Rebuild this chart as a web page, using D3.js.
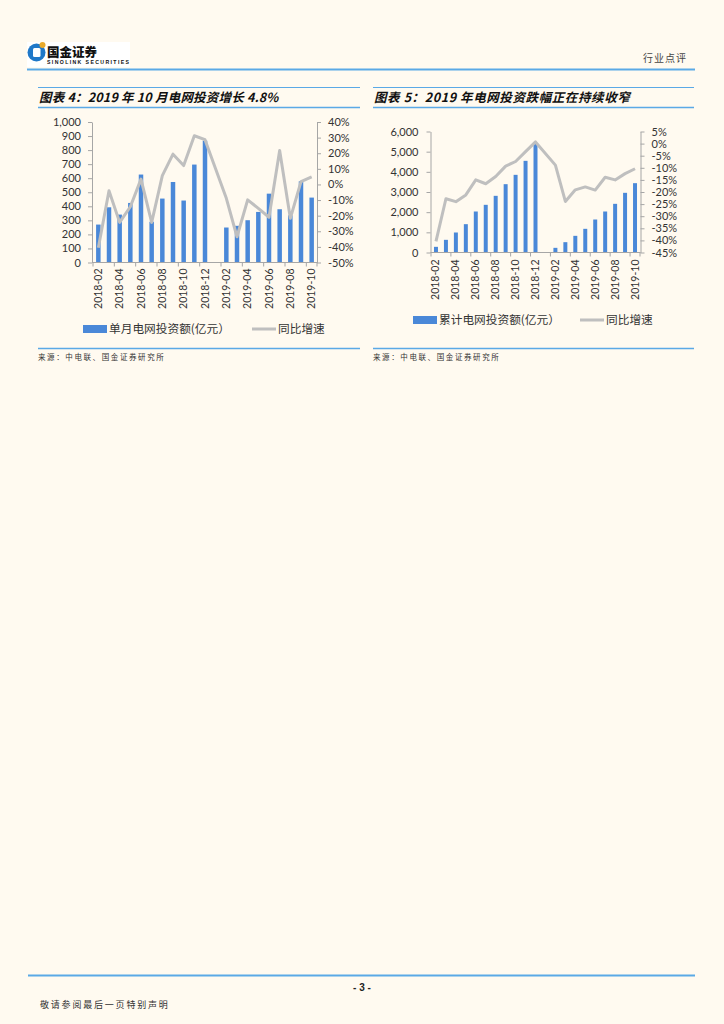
<!DOCTYPE html>
<meta charset="utf-8">
<style>
body { margin: 0; background: #fffaf0; }
svg { display: block; }
.cjk { font-family: "Noto Sans CJK SC", sans-serif; }
.axis path, .axis line { stroke: #a6a6a6; }
.axis text { fill: #333; font-family: Lato, "Noto Sans", sans-serif; font-size: 11px; }
</style>
<svg width="724" height="1024"></svg>
<script src="https://cdn.jsdelivr.net/npm/d3@7"></script>
<script>

// months shown on both charts (2019-01 has no published figure)
var months = ["2018-02","2018-03","2018-04","2018-05","2018-06","2018-07","2018-08",
  "2018-09","2018-10","2018-11","2018-12","2019-01","2019-02","2019-03","2019-04",
  "2019-05","2019-06","2019-07","2019-08","2019-09","2019-10"];

// 图表4: 单月电网投资额(亿元) / 同比增速(%)
var monthlyInvest = [270,393,341,424,626,290,455,573,441,697,867,null,
  249,261,301,360,490,379,336,578,462];
var monthlyYoY = [-40.6,-4.1,-24.3,-14.3,3.4,-24.3,5.7,19.4,12.1,31.2,28.7,null,
  -8.9,-33.5,-9.9,-15.3,-21.0,21.8,-21.7,1.8,4.8];

// 图表5: 累计电网投资额(亿元) / 同比增速(%)
var cumInvest = [281,628,992,1405,2033,2364,2810,3388,3851,4545,5388,null,
  231,512,826,1174,1636,2033,2413,2959,3438];
var cumYoY = [-40.4,-22.8,-24.0,-21.2,-15.0,-16.6,-13.6,-9.3,-7.4,-3.3,0.7,null,
  -8.9,-23.9,-19.1,-17.9,-19.2,-13.9,-15.0,-12.4,-10.4];

var leftTicks1 = d3.range(0, 1001, 100),
    rightTicks1 = d3.range(-50, 41, 10),
    leftTicks2 = d3.range(0, 6001, 1000),
    rightTicks2 = d3.range(-45, 6, 5);

var blue = "#5aa9e6",
    barColor = "#4a88d8",
    lineColor = "#bfbfbf";

var svg = d3.select("svg");

// ---- page header ----
svg.append("rect").attr("x", 27).attr("y", 42).attr("width", 103).attr("height", 25).attr("fill", "#fff");
svg.append("circle").attr("cx", 36.5).attr("cy", 52.5).attr("r", 9).attr("fill", "#1f78c8");
svg.append("rect").attr("x", 33).attr("y", 48).attr("width", 7.5).attr("height", 9).attr("rx", 1.5).attr("fill", "#fff");
svg.append("circle").attr("cx", 42.5).attr("cy", 45).attr("r", 3).attr("fill", "#e8a92a");
svg.append("text").attr("class", "cjk").attr("x", 47).attr("y", 56.5)
    .attr("font-size", 12.5).attr("font-weight", 900).attr("fill", "#111").text("国金证券");
svg.append("text").attr("x", 47).attr("y", 64)
    .attr("font-family", "Liberation Sans").attr("font-size", 5.2).attr("font-weight", "bold")
    .attr("textLength", 82).attr("fill", "#111").text("SINOLINK SECURITIES");
svg.append("text").attr("class", "cjk").attr("x", 643).attr("y", 62)
    .attr("font-size", 10).attr("letter-spacing", 1).attr("fill", "#444").text("行业点评");
svg.append("line").attr("x1", 27).attr("x2", 695).attr("y1", 69.5).attr("y2", 69.5)
    .attr("stroke", blue).attr("stroke-width", 2);

// ---- page footer ----
svg.append("line").attr("x1", 28).attr("x2", 695).attr("y1", 975.5).attr("y2", 975.5)
    .attr("stroke", blue).attr("stroke-width", 2);
svg.append("text").attr("x", 362).attr("y", 991).attr("text-anchor", "middle")
    .attr("font-family", "Liberation Sans").attr("font-weight", "bold").attr("font-size", 10)
    .attr("fill", "#222").text("- 3 -");
svg.append("text").attr("class", "cjk").attr("x", 40).attr("y", 1008)
    .attr("font-size", 9).attr("letter-spacing", 1.8).attr("fill", "#333").text("敬请参阅最后一页特别声明");

function drawChart(c) {
  var g = svg.append("g");

  // title block
  g.append("line").attr("x1", c.left).attr("x2", c.right).attr("y1", 87.5).attr("y2", 87.5)
      .attr("stroke", blue).attr("stroke-width", 1);
  g.append("text").attr("class", "cjk").attr("x", c.left + 1).attr("y", 101.5)
      .attr("font-size", 12.5).attr("font-weight", "bold").attr("font-style", "italic")
      .attr("letter-spacing", c.titleSpacing).attr("fill", "#111").text(c.title);
  g.append("line").attr("x1", c.left).attr("x2", c.right).attr("y1", 107.5).attr("y2", 107.5)
      .attr("stroke", blue).attr("stroke-width", 1.5);

  var x = d3.scaleBand().domain(months).range(c.xRange).paddingInner(c.pad).paddingOuter(c.pad / 2);
  var y = d3.scaleLinear().domain(c.leftDomain).range(c.yRange);
  var y2 = d3.scaleLinear().domain(c.rightDomain).range(c.yRange);

  var gap = x.step() - x.bandwidth();

  // bars
  g.append("g").selectAll("rect")
    .data(months.map(function(m, i) { return {m: m, v: c.bars[i]}; }).filter(function(d) { return d.v != null; }))
    .enter().append("rect")
      .attr("x", function(d) { return x(d.m); })
      .attr("width", x.bandwidth())
      .attr("y", function(d) { return y(d.v); })
      .attr("height", function(d) { return y(0) - y(d.v); })
      .attr("fill", barColor);

  // left axis
  g.append("g").attr("class", "axis")
      .attr("transform", "translate(" + c.xAxisL + ",0)")
      .call(d3.axisLeft(y).tickValues(c.leftTicks).tickSize(4).tickSizeOuter(0).tickPadding(c.leftPad)
        .tickFormat(d3.format(",")));

  // right axis
  g.append("g").attr("class", "axis")
      .attr("transform", "translate(" + c.xAxisR + ",0)")
      .call(d3.axisRight(y2).tickValues(c.rightTicks).tickSize(4).tickSizeOuter(0).tickPadding(c.rightPad)
        .tickFormat(function(d) { return d + "%"; }));

  // bottom axis: line, ticks between every second category, rotated labels
  var base = y(0);
  var xb = g.append("g").attr("class", "axis");
  xb.append("line").attr("x1", c.xAxisL).attr("x2", c.xAxisR).attr("y1", base).attr("y2", base);
  xb.selectAll(".tk")
    .data(months.filter(function(m, i) { return i % 2 == 0; }).concat(["end"]))
    .enter().append("line")
      .attr("class", "tk")
      .attr("x1", function(d) { return d == "end" ? x(months[months.length - 1]) + x.bandwidth() + gap / 2 : x(d) - gap / 2; })
      .attr("x2", function(d) { return d == "end" ? x(months[months.length - 1]) + x.bandwidth() + gap / 2 : x(d) - gap / 2; })
      .attr("y1", base).attr("y2", base + 4);
  xb.selectAll("text")
    .data(months.filter(function(m, i) { return i % 2 == 0; }))
    .enter().append("text")
      .attr("transform", function(d) {
        return "translate(" + (x(d) + x.bandwidth() / 2 + 3.5) + "," + (base + c.labelGap) + ") rotate(-90)";
      })
      .attr("text-anchor", "end")
      .style("font-size", "10.5px")
      .text(function(d) { return d; });

  // YoY line, gap month connected
  var pts = months.map(function(m, i) { return {m: m, v: c.line[i]}; }).filter(function(d) { return d.v != null; });
  g.append("path")
      .datum(pts)
      .attr("fill", "none")
      .attr("stroke", lineColor)
      .attr("stroke-width", 3)
      .attr("stroke-linejoin", "round")
      .attr("d", d3.line()
        .x(function(d) { return x(d.m) + x.bandwidth() / 2; })
        .y(function(d) { return y2(d.v); }));

  // legend
  var ly = c.legendY;
  g.append("rect").attr("x", c.legendX).attr("y", ly - 4).attr("width", 24).attr("height", 8).attr("fill", barColor);
  g.append("text").attr("class", "cjk").attr("x", c.legendX + 26).attr("y", ly + 4.3)
      .attr("font-size", 11.7).attr("fill", "#333").text(c.barName);
  g.append("line").attr("x1", c.legendX2).attr("x2", c.legendX2 + 24).attr("y1", ly).attr("y2", ly)
      .attr("stroke", lineColor).attr("stroke-width", 3);
  g.append("text").attr("class", "cjk").attr("x", c.legendX2 + 26).attr("y", ly + 4.3)
      .attr("font-size", 11.7).attr("fill", "#333").text("同比增速");

  // source
  g.append("line").attr("x1", c.left).attr("x2", c.right).attr("y1", 348.5).attr("y2", 348.5)
      .attr("stroke", blue).attr("stroke-width", 1.5);
  g.append("text").attr("class", "cjk").attr("x", c.left).attr("y", 360)
      .attr("font-size", 7.5).attr("letter-spacing", 1.6).attr("fill", "#333").text("来源：中电联、国金证券研究所");
}

drawChart({
  title: "图表 4：2019 年 10 月电网投资增长 4.8%",
  titleSpacing: 0.2,
  left: 38, right: 360,
  xRange: [93, 317], pad: 0.58,
  xAxisL: 92, xAxisR: 317,
  yRange: [262.5, 122],
  leftDomain: [0, 1000], rightDomain: [-50, 40],
  leftTicks: leftTicks1, rightTicks: rightTicks1,
  leftPad: 7, rightPad: 7,
  bars: monthlyInvest, line: monthlyYoY,
  labelGap: 6,
  barName: "单月电网投资额(亿元）",
  legendX: 83, legendX2: 252, legendY: 329
});

drawChart({
  title: "图表 5：2019 年电网投资跌幅正在持续收窄",
  titleSpacing: 0.6,
  left: 373, right: 694,
  xRange: [431, 640], pad: 0.6,
  xAxisL: 430.5, xAxisR: 640.5,
  yRange: [252.5, 131.5],
  leftDomain: [0, 6000], rightDomain: [-45, 5],
  leftTicks: leftTicks2, rightTicks: rightTicks2,
  leftPad: 8, rightPad: 7,
  bars: cumInvest, line: cumYoY,
  labelGap: 7,
  barName: "累计电网投资额(亿元）",
  legendX: 413, legendX2: 580, legendY: 320
});

</script>
